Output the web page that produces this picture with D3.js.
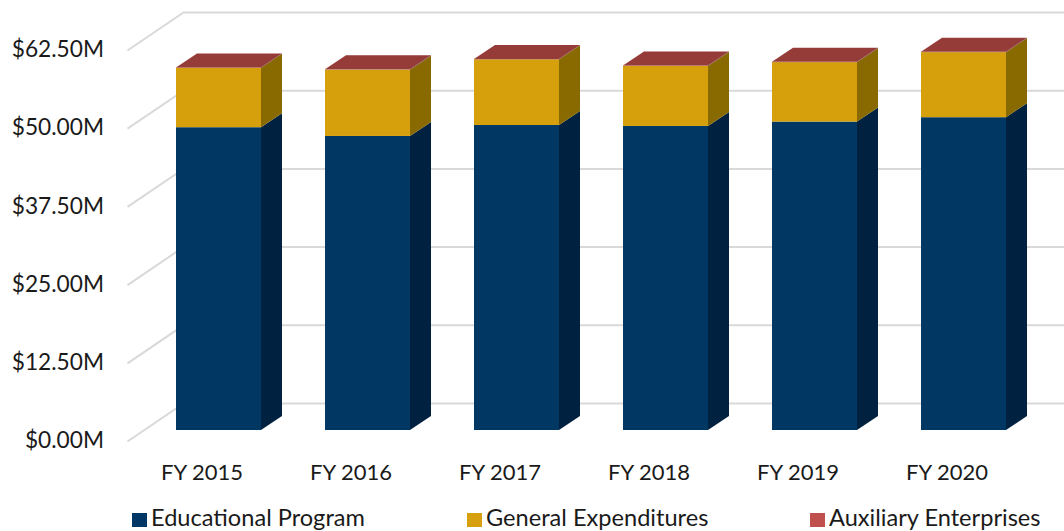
<!DOCTYPE html>
<html>
<head>
<meta charset="utf-8">
<script src="https://cdn.jsdelivr.net/npm/d3@7"></script>
<style>
  html, body { margin: 0; padding: 0; background: #fff; overflow: hidden; }
  text { font-family: Lato, "Open Sans", sans-serif; fill: #1a1a1a; }
</style>
</head>
<body>
<svg width="1064" height="531">
  <defs>
    <filter id="soft" x="-2%" y="-2%" width="104%" height="104%"><feGaussianBlur stdDeviation="0.4"></feGaussianBlur></filter>
  </defs>
</svg>
<script>
const categories = ["FY 2015", "FY 2016", "FY 2017", "FY 2018", "FY 2019", "FY 2020"];
const educational = [48.4, 47.0, 48.75, 48.6, 49.3, 50.0];
const general = [9.5, 10.6, 10.5, 9.6, 9.5, 10.4];
const auxiliary = [0.05, 0.05, 0.05, 0.05, 0.05, 0.05];
const tickValues = [0, 12.5, 25, 37.5, 50, 62.5];
const seriesNames = ["Educational Program", "General Expenditures", "Auxiliary Enterprises"];

const colors = { front: ["#003764", "#d6a00e", "#953b39"], side: ["#00233f", "#886a00", "#6b2a28"] };
const legendColor = ["#003764", "#d6a00e", "#c0504d"];

const svg = d3.select("svg");
const data = categories.map((c, i) => ({
  cat: c,
  [seriesNames[0]]: educational[i],
  [seriesNames[1]]: general[i],
  [seriesNames[2]]: auxiliary[i]
}));
const stacked = d3.stack().keys(seriesNames)(data);

// floor depth, and the bar's own smaller depth
const wallDx = 56, wallDy = -38;
const barDx = 21, barDy = -14;

const x = d3.scaleBand().domain(categories).range([127.5, 1021.5]);
const barPad = 48.5, barW = 85;
const y = d3.scaleLinear().domain([0, 62.5]).range([430, 39]);
const frontOff = 11.5; // bars sit this far behind the front edge of the floor

// grid: back wall + left wall
const grid = svg.append("g").attr("stroke", "#d9d9d9").attr("stroke-width", 2).attr("fill", "none")
  .attr("filter", "url(#soft)");
tickValues.forEach((t) => {
  const yf = y(t) + frontOff;
  grid.append("path")
    .attr("d", `M${x.range()[0]},${yf}L${x.range()[0] + wallDx},${yf + wallDy}L${x.range()[1] + wallDx},${yf + wallDy}`);
});

// bars
const bars = svg.append("g").attr("filter", "url(#soft)");
categories.forEach((c, i) => {
  const x0 = x(c) + barPad, x1 = x0 + barW;
  stacked.forEach((s, k) => {
    const y0 = y(s[i][0]), y1 = y(s[i][1]);
    bars.append("rect")
      .attr("x", x0).attr("y", y1)
      .attr("width", barW).attr("height", y0 - y1)
      .attr("fill", colors.front[k]);
    bars.append("path")
      .attr("d", `M${x1},${y0}L${x1 + barDx},${y0 + barDy}L${x1 + barDx},${y1 + barDy}L${x1},${y1}Z`)
      .attr("fill", colors.side[k]);
    if (k === stacked.length - 1) {
      bars.append("path")
        .attr("d", `M${x0},${y1}L${x0 + barDx},${y1 + barDy}L${x1 + barDx},${y1 + barDy}L${x1},${y1}Z`)
        .attr("fill", colors.front[k]);
    }
  });
});

// y axis labels
const yAxis = svg.append("g")
  .attr("transform", "translate(112," + (frontOff - 1) + ")")
  .call(d3.axisLeft(y).tickValues(tickValues).tickSize(0).tickPadding(8)
    .tickFormat((d) => "$" + d3.format(".2f")(d) + "M"));
yAxis.select(".domain").remove();
yAxis.selectAll("text").attr("font-size", 22.7).style("font-family", null);

// x axis labels
const xAxis = svg.append("g")
  .attr("transform", "translate(0,472)")
  .call(d3.axisBottom(x).tickSize(0).tickPadding(0));
xAxis.select(".domain").remove();
xAxis.selectAll("text").attr("font-size", 22).attr("dy", "0.35em").style("font-family", null);

// legend
const legendX = d3.scaleOrdinal().domain(seriesNames).range([132, 467, 810]);
const legend = svg.append("g").selectAll("g").data(seriesNames).enter().append("g")
  .attr("transform", (d) => "translate(" + legendX(d) + ",513)");
legend.append("rect").attr("width", 15).attr("height", 14).attr("fill", (d, i) => legendColor[i]);
legend.append("text").attr("x", 19).attr("y", 13).attr("font-size", 23.6).text((d) => d);
</script>
</body>
</html>
